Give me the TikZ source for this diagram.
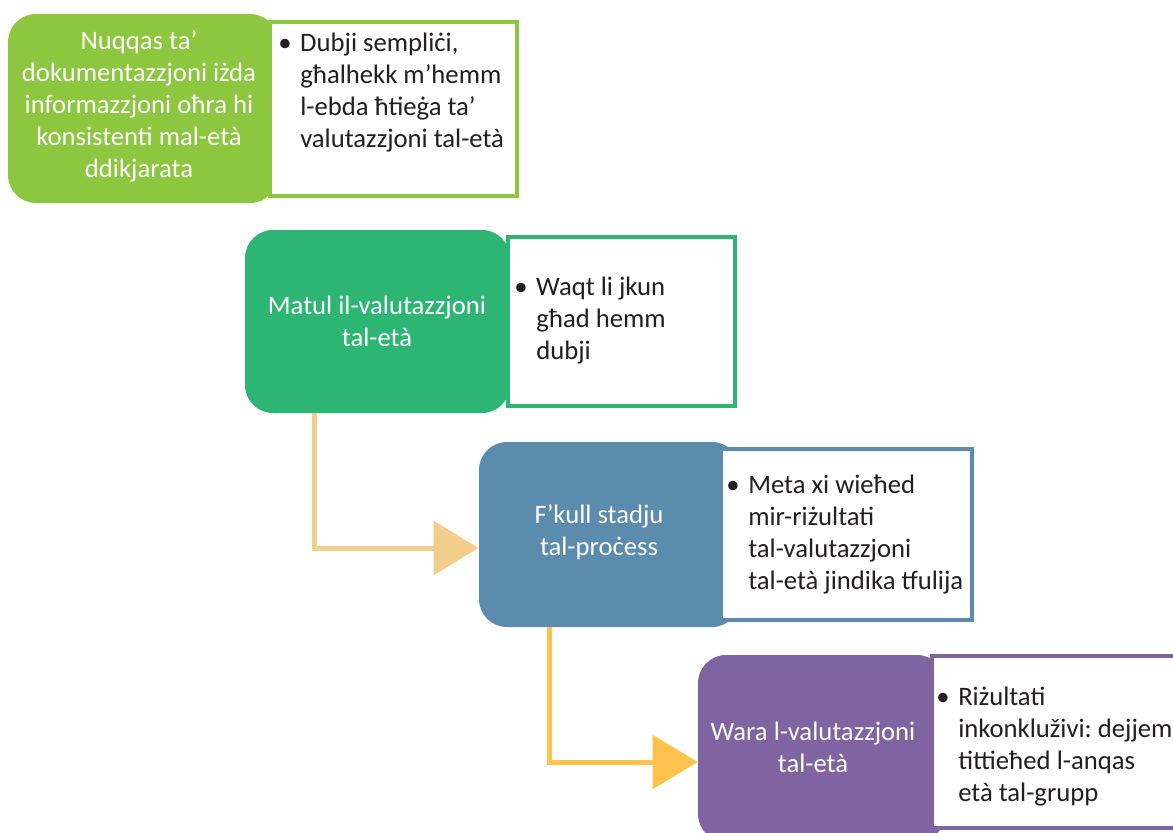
\documentclass[tikz,border=0pt]{standalone}
\usepackage{fontspec}
\setmainfont{Carlito}
\usetikzlibrary{arrows.meta,calc}
\definecolor{cgreenA}{HTML}{8DC63F}
\definecolor{cgreenB}{HTML}{2DB673}
\definecolor{cblue}{HTML}{5B8BAD}
\definecolor{cpurple}{HTML}{8064A2}
\definecolor{carrowA}{HTML}{F2CD8B}
\definecolor{carrowB}{HTML}{FFC34D}
\definecolor{textdark}{HTML}{231F20}
\frenchspacing
\begin{document}
\begin{tikzpicture}[x=0.75pt,y=-0.75pt,
  cbox/.style={rectangle, rounded corners=21pt, draw=none, inner sep=0pt},
  wbox/.style={rectangle, fill=white, line width=3pt, inner sep=0pt},
  ctext/.style={text=white, align=center, inner sep=0pt, font=\fontsize{20pt}{24pt}\selectfont},
  btext/.style={text=textdark, align=left, anchor=west, inner sep=0pt, font=\fontsize{20pt}{24pt}\selectfont},
  conn/.style={line width=3.75pt, line join=miter, -{Triangle[length=33.75pt,width=39.75pt]}}
]
\useasboundingbox (0,0) rectangle (1173,832);
\clip (0,0) rectangle (1173,832);
\fill[white] (0,0) rectangle (1173,832);
\newcommand{\bl}{\makebox[16.5pt][l]{\textbullet}}
\newcommand{\ind}{\hspace*{16.5pt}}

% row 1
\node[cbox, fill=cgreenA, minimum width=202.5pt, minimum height=141.75pt] (b1) at (143,108.5) {};
\node[wbox, draw=cgreenA, minimum width=185.25pt, minimum height=130.5pt] (w1) at (393.5,109) {};
\node[ctext] (t1) at (139,106) {Nuqqas ta’\\dokumentazzjoni iżda\\informazzjoni oħra hi\\konsistenti mal-età\\ddikjarata};
\node[btext] (s1) at (278,93) {\bl Dubji sempliċi,\\\ind għalhekk m’hemm\\\ind l-ebda ħtieġa ta’\\\ind valutazzjoni tal-età};

% row 2
\node[cbox, fill=cgreenB, minimum width=198.75pt, minimum height=137.25pt] (b2) at (377.5,321.5) {};
\node[wbox, draw=cgreenB, minimum width=170.25pt, minimum height=126.75pt] (w2) at (621.5,321.5) {};
\node[ctext] (t2) at (377,321) {Matul il-valutazzjoni\\tal-età};
\node[btext] (s2) at (514,321) {\bl Waqt li jkun\\\ind għad hemm\\\ind dubji};

% row 3
\node[cbox, fill=cblue, minimum width=195.75pt, minimum height=138.75pt] (b3) at (609.5,534.5) {};
\node[wbox, draw=cblue, minimum width=188.25pt, minimum height=128.25pt] (w3) at (846.5,534.5) {};
\node[ctext] (t3) at (599,532) {F’kull stadju\\tal-proċess};
\node[btext] (s3) at (726,535) {\bl Meta xi wieħed\\\ind mir-riżultati\\\ind tal-valutazzjoni\\\ind tal-età jindika tfulija};

% row 4
\node[cbox, fill=cpurple, minimum width=185.25pt, minimum height=140.25pt] (b4) at (821.5,748.5) {};
\node[wbox, draw=cpurple, minimum width=189pt, minimum height=129pt] (w4) at (1058,742) {};
\node[ctext] (t4) at (813,747) {Wara l-valutazzjoni\\tal-età};
\node[btext] (s4) at (936,747) {\bl Riżultati\\\ind inkonkluživi: dejjem\\\ind tittieħed l-anqas\\\ind età tal-grupp};

% connectors
\draw[conn, color=carrowA] ($(b2.south west)+(70,0)$) |- ($(b3.west)+(0,13.5)$);
\draw[conn, color=carrowB] ($(b3.south west)+(71,0)$) |- ($(b4.west)+(0,13.5)$);
\end{tikzpicture}
\end{document}
